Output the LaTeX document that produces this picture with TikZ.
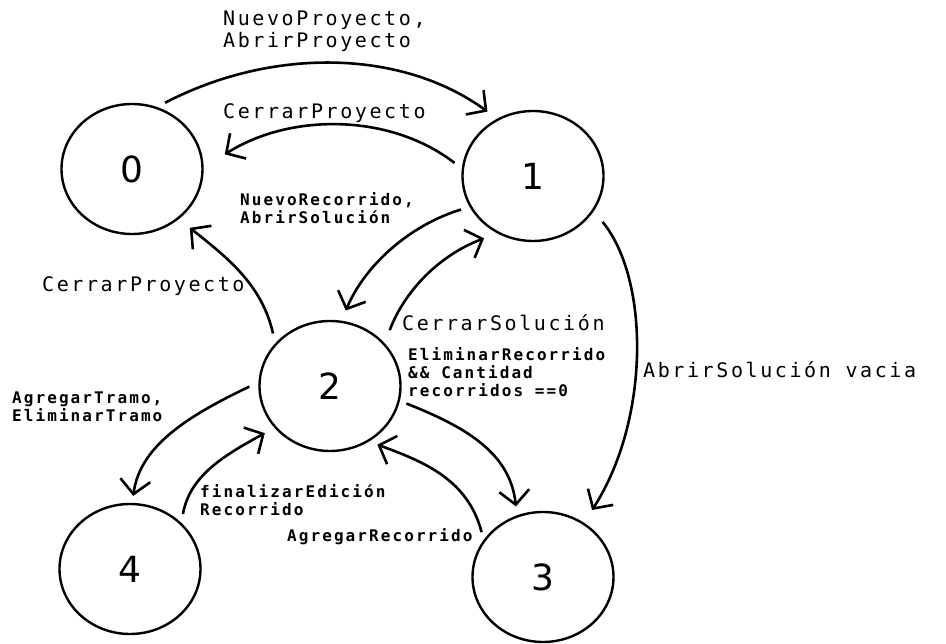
\documentclass[tikz,border=0pt]{standalone}
\usepackage{fontspec}
\usepackage{tikz}
\usetikzlibrary{arrows.meta,shapes.geometric}
\newfontfamily\etiqfont[LetterSpace=13]{DejaVu Sans Mono}
\newfontfamily\numfont{DejaVu Sans}

\begin{document}
\begin{tikzpicture}[x=1pt, y=1pt,
    estado/.style={ellipse, draw, line width=2.4pt, minimum width=141pt, minimum height=130pt, inner sep=0pt, font=\numfont\fontsize{36}{40}\selectfont},
    etiq/.style={anchor=west, align=left, inner sep=0pt, font=\etiqfont\fontsize{20}{22}\selectfont},
    etiqchica/.style={anchor=west, align=left, inner sep=0pt, font=\etiqfont\bfseries\fontsize{16}{18}\selectfont},
    flecha/.style={line width=2.6pt, -{Straight Barb[length=14pt,width=30pt]}}]
            \useasboundingbox (0,0) rectangle (946,-644);

            % Define vertices
            \node[estado] (E0) at (132,-169) {0};
            \node[estado] (E1) at (533,-176) {1};
            \node[estado] (E2) at (330,-386) {2};
            \node[estado] (E3) at (543,-577) {3};
            \node[estado] (E4) at (130,-569) {4};

            % Labels
            \node[etiq] (lNuevoP) at (223,-31) {NuevoProyecto,\\AbrirProyecto};
            \node[etiq] (lCerrarP) at (223,-113) {CerrarProyecto};
            \node[etiqchica] (lNuevoR) at (240,-208) {NuevoRecorrido,\\AbrirSolución};
            \node[etiq] (lCerrarP2) at (42,-286) {CerrarProyecto};
            \node[etiq] (lCerrarS) at (402,-323) {CerrarSolución};
            \node[etiqchica] (lElimR) at (408,-372) {EliminarRecorrido\\\&\& Cantidad\\recorridos ==0};
            \node[etiq] (lAbrirV) at (643,-370) {AbrirSolución vacia};
            \node[etiqchica] (lTramo) at (12,-407) {AgregarTramo,\\EliminarTramo};
            \node[etiqchica] (lFinal) at (200,-500) {finalizarEdición\\Recorrido};
            \node[etiqchica] (lAgregR) at (287,-537) {AgregarRecorrido};

            % Draw edges with arrows
            \draw[flecha, shorten <=9pt, shorten >=12pt] (E0.68) .. controls (270,-48) and (400,-48) .. (E1.122);
            \draw[flecha, shorten <=9pt, shorten >=25pt] (E1.174) .. controls (390,-113) and (290,-113) .. (E0.1);
            \draw[flecha, shorten <=9pt, shorten >=11pt] (E1.206) .. controls (410,-225) and (365,-265) .. (E2.80);
            \draw[flecha, shorten <=14pt, shorten >=14pt] (E2.38) .. controls (405,-290) and (440,-255) .. (E1.238);
            \draw[flecha, shorten <=14pt, shorten >=15pt] (E1.-30) .. controls (650,-280) and (650,-420) .. (E3.53);
            \draw[flecha, shorten <=10pt, shorten >=14pt] (E2.142) .. controls (262,-285) and (228,-258) .. (E0.-47);
            \draw[flecha, shorten <=10pt, shorten >=7pt] (E2.177) .. controls (190,-415) and (140,-445) .. (E4.88);
            \draw[flecha, shorten <=9pt, shorten >=11pt] (E4.42) .. controls (190,-475) and (225,-455) .. (E2.217);
            \draw[flecha, shorten <=7pt, shorten >=9pt] (E2.-12) .. controls (460,-425) and (510,-450) .. (E3.113);
            \draw[flecha, shorten <=8pt, shorten >=9pt] (E3.148) .. controls (468,-480) and (425,-462) .. (E2.-55);
        \end{tikzpicture}
\end{document}
